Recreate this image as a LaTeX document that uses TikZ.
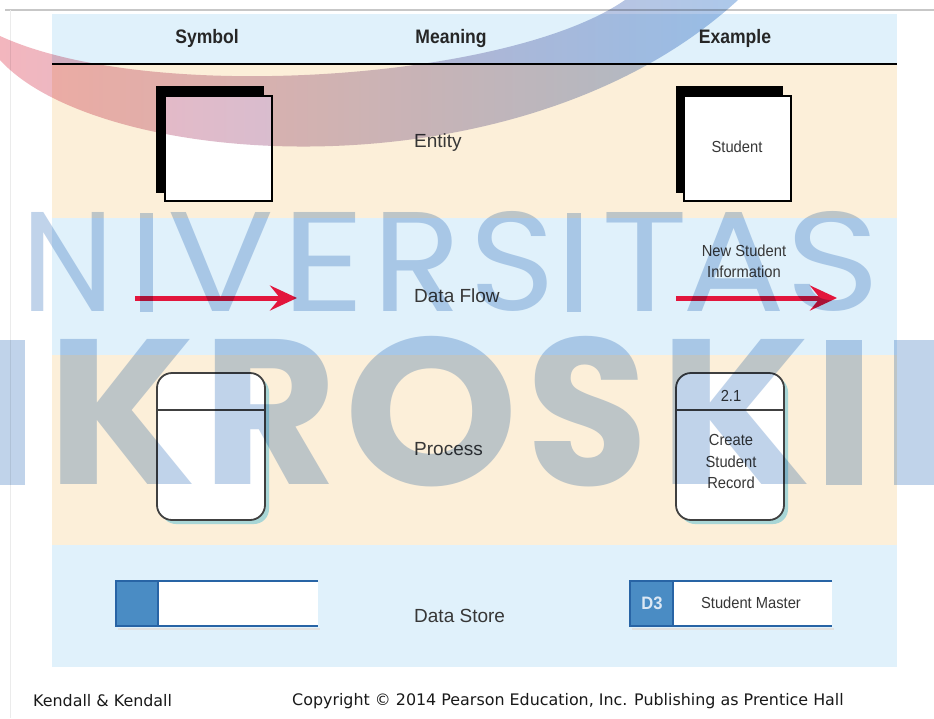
\documentclass[tikz,border=0pt]{standalone}
\usepackage{fontspec}
\setmainfont{Liberation Sans}
\newfontfamily\headfont[FakeStretch=0.9]{Liberation Sans}
\newfontfamily\condfont[FakeStretch=0.92]{Liberation Sans}
\newfontfamily\footfont{DejaVu Sans}
\newfontfamily\wmfont{Poppins}
\usetikzlibrary{arrows.meta}
\definecolor{bandblue}{RGB}{224,241,251}
\definecolor{bandbeige}{RGB}{252,239,217}
\definecolor{flowred}{RGB}{226,22,60}
\definecolor{storeline}{RGB}{40,100,165}
\definecolor{storefill}{RGB}{74,140,196}
\definecolor{wmblue}{RGB}{192,211,234}
\definecolor{txt}{RGB}{55,55,55}
\definecolor{procshadow}{RGB}{168,214,214}
\definecolor{swl}{RGB}{243,182,190}
\definecolor{swm}{RGB}{222,202,214}
\definecolor{swr}{RGB}{172,200,234}
\definecolor{dthree}{RGB}{220,232,244}
\tikzset{
  head/.style={font=\headfont\bfseries\fontsize{19.5pt}{22pt}\selectfont, text=black!85, inner sep=0},
  meaning/.style={font=\fontsize{19pt}{22pt}\selectfont, text=txt, inner sep=0, anchor=west},
  boxtext/.style={font=\condfont\fontsize{16pt}{21.5pt}\selectfont, text=txt, align=center, inner sep=0},
  foot/.style={font=\footfont\fontsize{15.9pt}{18pt}\selectfont, text=black!90, inner sep=0, anchor=west},
  flow/.style={draw=flowred, line width=5pt, -{Stealth[length=27pt,width=25pt,inset=10pt]}},
  entback/.style={fill=black},
  entfront/.style={draw=black, fill=white, line width=1.5pt},
  procbox/.style={draw=black!75, fill=white, line width=1.8pt, rounded corners=15pt},
  procshad/.style={fill=procshadow, rounded corners=15pt},
  storeedge/.style={draw=storeline, line width=2.5pt},
  wmreg/.style={font=\wmfont, text=wmblue, inner sep=0, anchor=south},
  wmbold/.style={font=\wmfont\bfseries, text=wmblue, inner sep=0, anchor=south},
  wmbar/.style={fill=wmblue}
}
\begin{document}
\begin{tikzpicture}[x=1pt,y=-1pt]
\useasboundingbox (0,0) rectangle (934,718);
\fill[white] (0,0) rectangle (934,718);
% page frame
\draw[black!22, line width=1.2pt] (5,10) -- (934,10);
\draw[black!8, line width=1pt] (10,10) -- (10,718);
% bands
\fill[bandblue] (52,14) rectangle (897,63);
\fill[bandbeige] (52,65) rectangle (897,218);
\fill[bandblue] (52,218) rectangle (897,355);
\fill[bandbeige] (52,355) rectangle (897,545);
\fill[bandblue] (52,545) rectangle (897,667);
\draw[black, line width=2.5pt] (52,64) -- (897,64);
% headers
\node[head] (hsym) at (207,38) {Symbol};
\node[head] (hmean) at (451,38) {Meaning};
\node[head] (hex) at (735,38) {Example};
% meanings
\node[meaning] (mEnt) at (414,143) {Entity};
\node[meaning] (mFlow) at (414,296) {Data Flow};
\node[meaning] (mProc) at (414,449) {Process};
\node[meaning] (mStore) at (414,616) {Data Store};
% entity symbol
\fill[entback] (156,86) rectangle (264,193);
\draw[entfront] (165,96) rectangle (272,201);
% entity example
\fill[entback] (676,86) rectangle (783,193);
\draw[entfront] (684,96) rectangle (791,201);
\node[boxtext] (stud) at (737,147) {Student};
% data flow symbol
\coordinate (fa1) at (135,298);
\coordinate (fb1) at (297,298);
\draw[flow] (fa1) -- (fb1);
% data flow example
\coordinate (fa2) at (676,298);
\coordinate (fb2) at (837,298);
\draw[flow] (fa2) -- (fb2);
\node[boxtext] (nsi) at (744,261.5) {New Student\\Information};
% process symbol
\fill[procshad] (161,377) rectangle (269,524);
\draw[procbox] (157,373) rectangle (265,520);
\draw[black!75, line width=1.8pt] (157,410) -- (265,410);
% process example
\fill[procshad] (680,377) rectangle (788,524);
\draw[procbox] (676,373) rectangle (784,520);
\draw[black!75, line width=1.8pt] (676,410) -- (784,410);
\node[boxtext] (pid) at (731,396) {2.1};
\node[boxtext] (pname) at (731,461.5) {Create\\Student\\Record};
% data store symbol
\fill[black!12] (118,628) rectangle (320,630);
\fill[white] (116,581) rectangle (318,626);
\fill[storefill] (116,581) rectangle (158,626);
\draw[storeedge] (318,581) -- (116,581) -- (116,626) -- (318,626);
\draw[storeline, line width=1.8pt] (158,581) -- (158,626);
% data store example
\fill[black!12] (632,628) rectangle (834,630);
\fill[white] (630,581) rectangle (832,626);
\fill[storefill] (630,581) rectangle (673,626);
\draw[storeedge] (832,581) -- (630,581) -- (630,626) -- (832,626);
\draw[storeline, line width=1.8pt] (673,581) -- (673,626);
\node[font=\condfont\bfseries\fontsize{18pt}{20pt}\selectfont, text=dthree, inner sep=0] (d3) at (652,603) {D3};
\node[boxtext] (sm) at (751,603) {Student Master};
% footer
\node[foot] (fk) at (33,701) {Kendall \& Kendall};
\node[foot] (fc) at (292,701) {Copyright © 2014 Pearson Education, Inc. Publishing as Prentice Hall};
% watermark overlay
\begin{scope}[blend mode=multiply]
\shade[left color=swl, middle color=swm, right color=swr]
  (0,60) .. controls (100,170) and (520,200) .. (738,0) -- (625,0)
  .. controls (510,80) and (150,105) .. (0,36) -- cycle;
% UNIVERSITAS (visible part)
\node[wmreg] (wN) at (68.5,312) {\resizebox{93pt}{99pt}{N}};
\fill[wmbar] (140,213) rectangle (153,312);
\node[wmreg] (wV) at (221.5,312) {\resizebox{107pt}{99pt}{V}};
\node[wmreg] (wE) at (323.5,312) {\resizebox{84pt}{99pt}{E}};
\node[wmreg] (wR) at (417.5,312) {\resizebox{89pt}{99pt}{R}};
\node[wmreg] (wS) at (512.5,312) {\resizebox{86pt}{99pt}{S}};
\fill[wmbar] (567,213) rectangle (581,312);
\node[wmreg] (wT) at (645.5,312) {\resizebox{87pt}{99pt}{T}};
\node[wmreg] (wA) at (734,312) {\resizebox{103pt}{99pt}{A}};
\node[wmreg] (wS2) at (833.5,312) {\resizebox{95pt}{99pt}{S}};
% MIKROSKIL (visible part)
\fill[wmbar] (-15,340) rectangle (25,485);
\node[wmbold] (mK) at (122.5,485) {\resizebox{149pt}{145pt}{K}};
\node[wmbold] (mR) at (270.5,485) {\resizebox{135pt}{145pt}{R}};
\node[wmbold] (mO) at (432,487) {\resizebox{174pt}{149pt}{O}};
\node[wmbold] (mS) at (587.5,487) {\resizebox{122pt}{149pt}{S}};
\node[wmbold] (mK2) at (735.5,485) {\resizebox{152pt}{145pt}{K}};
\fill[wmbar] (826,340) rectangle (862,485);
\fill[wmbar] (894,340) -- (934,340) -- (934,485) -- (894,485) -- cycle;
\end{scope}
\end{tikzpicture}
\end{document}
